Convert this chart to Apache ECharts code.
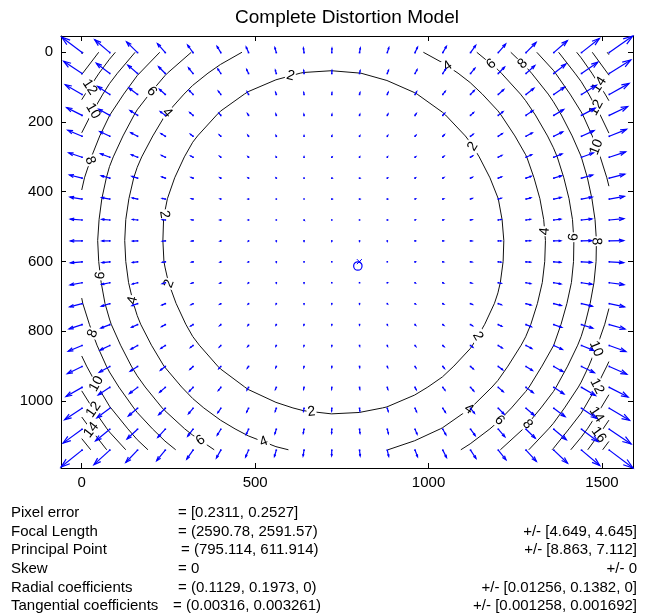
<!DOCTYPE html>
<html><head><meta charset="utf-8">
<script src="https://cdn.jsdelivr.net/npm/echarts@6/dist/echarts.min.js"></script>
<style>html,body{margin:0;padding:0;background:#fff}#chart{width:662px;height:616px}</style>
</head><body><div id="chart"></div>
<script>
// ---------- data ----------
var chartTitle = 'Complete Distortion Model';
var xTickValues = [0, 500, 1000, 1500];
var yTickValues = [0, 200, 400, 600, 800, 1000];
var gridX = [0,80,160,240,320,400,480,560,640,720,800,880,960,1040,1120,1200,1280,1360,1440,1520];
var gridY = [0,60,120,180,240,300,360,420,480,540,600,660,720,780,840,900,960,1020,1080,1140];
// displacement (pixels) at each grid point, one row per gridY value
var dispX = [
[-12.9,-9.6,-7.0,-5.0,-3.5,-2.4,-1.5,-0.9,-0.4,0.1,0.5,1.0,1.6,2.3,3.3,4.7,6.4,8.6,11.4,14.9],
[-11.7,-8.6,-6.2,-4.3,-2.9,-1.9,-1.2,-0.6,-0.2,0.1,0.4,0.8,1.3,1.9,2.8,4.0,5.6,7.7,10.4,13.7],
[-10.7,-7.7,-5.5,-3.7,-2.5,-1.6,-0.9,-0.5,-0.2,0.1,0.3,0.6,1.0,1.6,2.4,3.5,5.0,6.9,9.5,12.6],
[-9.8,-7.0,-4.8,-3.2,-2.1,-1.2,-0.7,-0.3,-0.1,0.1,0.2,0.5,0.8,1.3,2.0,3.0,4.4,6.3,8.7,11.7],
[-9.1,-6.4,-4.3,-2.8,-1.7,-1.0,-0.5,-0.2,0.0,0.1,0.2,0.3,0.6,1.0,1.7,2.6,4.0,5.7,8.0,11.0],
[-8.5,-5.9,-3.9,-2.5,-1.5,-0.8,-0.4,-0.1,0.0,0.1,0.1,0.2,0.5,0.8,1.4,2.3,3.6,5.3,7.5,10.4],
[-8.0,-5.5,-3.6,-2.2,-1.3,-0.6,-0.3,-0.1,0.0,0.1,0.1,0.2,0.3,0.7,1.2,2.1,3.3,4.9,7.1,9.9],
[-7.7,-5.2,-3.4,-2.0,-1.1,-0.5,-0.2,0.0,0.0,0.1,0.1,0.1,0.3,0.6,1.1,1.9,3.1,4.7,6.8,9.6],
[-7.5,-5.1,-3.2,-1.9,-1.0,-0.5,-0.1,0.0,0.1,0.0,0.0,0.1,0.2,0.5,1.0,1.8,2.9,4.5,6.6,9.3],
[-7.4,-5.0,-3.2,-1.9,-1.0,-0.5,-0.1,0.0,0.0,0.0,0.0,0.0,0.2,0.5,1.0,1.8,2.9,4.5,6.5,9.2],
[-7.4,-5.0,-3.2,-1.9,-1.0,-0.5,-0.2,0.0,0.0,0.0,0.0,0.0,0.2,0.5,1.0,1.8,2.9,4.5,6.6,9.2],
[-7.6,-5.2,-3.3,-2.0,-1.1,-0.6,-0.2,0.0,0.0,0.0,0.0,0.1,0.2,0.5,1.0,1.9,3.0,4.6,6.7,9.4],
[-7.9,-5.4,-3.5,-2.2,-1.3,-0.7,-0.3,-0.1,0.0,0.0,0.0,0.1,0.3,0.6,1.2,2.0,3.2,4.8,6.9,9.7],
[-8.3,-5.7,-3.8,-2.4,-1.5,-0.8,-0.4,-0.2,-0.1,0.0,0.0,0.1,0.4,0.7,1.3,2.2,3.4,5.1,7.2,10.0],
[-8.8,-6.2,-4.2,-2.8,-1.7,-1.0,-0.6,-0.3,-0.1,0.0,0.1,0.2,0.5,0.9,1.5,2.5,3.7,5.5,7.7,10.6],
[-9.4,-6.7,-4.7,-3.1,-2.0,-1.3,-0.8,-0.4,-0.2,0.0,0.1,0.3,0.6,1.1,1.8,2.8,4.1,5.9,8.2,11.2],
[-10.2,-7.4,-5.2,-3.6,-2.4,-1.6,-1.0,-0.6,-0.3,-0.1,0.2,0.4,0.8,1.4,2.1,3.2,4.6,6.5,8.9,12.0],
[-11.1,-8.2,-5.9,-4.2,-2.9,-1.9,-1.2,-0.7,-0.4,-0.1,0.2,0.6,1.0,1.7,2.5,3.7,5.2,7.2,9.7,12.9],
[-12.1,-9.1,-6.7,-4.8,-3.4,-2.3,-1.5,-0.9,-0.5,-0.1,0.3,0.7,1.3,2.0,3.0,4.2,5.9,8.0,10.6,13.9],
[-13.4,-10.1,-7.5,-5.5,-4.0,-2.8,-1.9,-1.2,-0.6,-0.1,0.4,0.9,1.6,2.4,3.5,4.9,6.6,8.8,11.6,15.1]
];
var dispY = [
[-9.7,-8.1,-6.8,-5.7,-4.8,-4.0,-3.5,-3.1,-2.9,-2.8,-2.9,-3.1,-3.4,-3.9,-4.6,-5.4,-6.4,-7.5,-8.9,-10.5],
[-7.8,-6.5,-5.3,-4.3,-3.6,-2.9,-2.5,-2.1,-2.0,-1.9,-1.9,-2.1,-2.4,-2.9,-3.4,-4.1,-5.0,-6.0,-7.2,-8.6],
[-6.2,-5.1,-4.1,-3.3,-2.6,-2.1,-1.7,-1.4,-1.2,-1.2,-1.2,-1.4,-1.7,-2.0,-2.5,-3.1,-3.9,-4.7,-5.8,-7.0],
[-4.9,-3.9,-3.1,-2.4,-1.8,-1.4,-1.1,-0.9,-0.7,-0.7,-0.7,-0.9,-1.1,-1.4,-1.8,-2.3,-3.0,-3.7,-4.6,-5.6],
[-3.8,-3.0,-2.3,-1.7,-1.3,-0.9,-0.7,-0.5,-0.4,-0.4,-0.4,-0.5,-0.7,-1.0,-1.3,-1.7,-2.2,-2.8,-3.6,-4.4],
[-2.8,-2.2,-1.6,-1.2,-0.8,-0.6,-0.4,-0.2,-0.2,-0.1,-0.2,-0.3,-0.4,-0.6,-0.9,-1.2,-1.6,-2.1,-2.7,-3.4],
[-2.0,-1.5,-1.1,-0.8,-0.5,-0.3,-0.2,-0.1,0.0,0.0,0.0,-0.1,-0.2,-0.4,-0.6,-0.8,-1.2,-1.5,-2.0,-2.5],
[-1.2,-0.9,-0.7,-0.4,-0.3,-0.1,0.0,0.0,0.0,0.0,0.0,0.0,-0.1,-0.2,-0.4,-0.5,-0.8,-1.0,-1.3,-1.7],
[-0.6,-0.4,-0.3,-0.2,-0.1,0.0,0.0,0.0,0.1,0.0,0.0,0.0,-0.1,-0.1,-0.2,-0.3,-0.4,-0.5,-0.7,-0.9],
[0.0,0.0,0.1,0.1,0.1,0.1,0.1,0.1,0.1,0.1,0.1,0.1,0.0,0.0,0.0,0.0,-0.1,-0.1,-0.2,-0.2],
[0.6,0.5,0.4,0.3,0.2,0.2,0.1,0.1,0.0,0.0,0.0,0.0,0.0,0.1,0.1,0.2,0.2,0.3,0.4,0.5],
[1.3,1.0,0.8,0.6,0.4,0.3,0.2,0.1,0.1,0.0,0.0,0.0,0.1,0.2,0.3,0.4,0.6,0.7,1.0,1.2],
[2.0,1.6,1.2,0.9,0.6,0.4,0.3,0.2,0.1,0.1,0.1,0.1,0.2,0.3,0.5,0.7,0.9,1.2,1.6,2.0],
[2.7,2.2,1.7,1.3,0.9,0.7,0.5,0.3,0.2,0.2,0.2,0.2,0.4,0.5,0.8,1.0,1.4,1.8,2.3,2.8],
[3.6,2.9,2.3,1.8,1.3,1.0,0.7,0.5,0.4,0.4,0.4,0.5,0.6,0.8,1.1,1.5,1.9,2.5,3.1,3.8],
[4.6,3.7,3.0,2.4,1.9,1.4,1.1,0.9,0.8,0.7,0.7,0.8,1.0,1.3,1.6,2.1,2.6,3.3,4.0,4.9],
[5.8,4.8,3.9,3.1,2.5,2.0,1.7,1.4,1.2,1.2,1.2,1.3,1.5,1.8,2.3,2.8,3.4,4.2,5.1,6.1],
[7.2,6.0,4.9,4.1,3.4,2.8,2.4,2.0,1.9,1.8,1.8,2.0,2.2,2.6,3.1,3.7,4.4,5.3,6.4,7.6],
[8.8,7.4,6.2,5.2,4.4,3.8,3.3,2.9,2.7,2.6,2.6,2.8,3.1,3.5,4.1,4.8,5.7,6.7,7.9,9.3],
[10.7,9.2,7.8,6.7,5.7,5.0,4.4,4.0,3.7,3.6,3.7,3.9,4.2,4.7,5.3,6.1,7.1,8.3,9.7,11.3]
];
// contour lines of the displacement magnitude (pixels): [x, y] vertices
var contour2 = [
[[640,58],[630,60],[560,79],[480,113],[469,120],[400,169],[389,180],[334,240],[320,258],[296,300],[268,360],[247,420],[240,455],[236,480],[234,540],[237,600],[240,616],[250,660],[272,720],[300,780],[320,815],[339,840],[392,900],[400,908],[470,960],[480,967],[560,1004],[609,1020],[640,1028],[720,1037],[800,1033],[867,1020],[880,1017],[960,983],[998,960],[1040,931],[1073,900],[1120,850],[1127,840],[1162,780],[1190,720],[1200,690],[1207,660],[1215,600],[1217,540],[1212,480],[1201,420],[1200,418],[1177,360],[1146,300],[1120,258],[1106,240],[1049,180],[1040,172],[967,120],[960,116],[880,81],[805,60],[800,59],[720,53],[640,58]]
];
var contour4 = [
[[462,0],[400,35],[364,60],[320,95],[295,120],[241,180],[240,182],[205,240],[173,300],[160,330],[150,360],[136,420],[127,480],[124,540],[127,600],[135,660],[149,720],[160,755],[170,780],[201,840],[237,900],[240,905],[288,960],[320,993],[352,1020],[400,1055],[442,1080],[480,1100],[560,1131],[596,1140]],
[[985,0],[1040,30],[1085,60],[1120,87],[1155,120],[1200,168],[1209,180],[1249,240],[1280,294],[1283,300],[1304,360],[1321,420],[1332,480],[1337,540],[1335,600],[1328,660],[1314,720],[1295,780],[1280,816],[1267,840],[1229,900],[1200,941],[1183,960],[1122,1020],[1120,1021],[1040,1077],[1034,1080],[960,1114],[883,1140]]
];
var contour6 = [
[[316,0],[247,60],[240,67],[195,120],[160,165],[151,180],[119,240],[91,300],[80,328],[71,360],[58,420],[50,480],[46,540],[49,600],[56,660],[67,720],[80,765],[85,780],[112,840],[143,900],[160,928],[183,960],[232,1020],[240,1028],[297,1080],[320,1098],[382,1140]],
[[1139,0],[1200,50],[1210,60],[1265,120],[1280,139],[1308,180],[1343,240],[1360,274],[1371,300],[1390,360],[1405,420],[1415,480],[1419,540],[1418,600],[1412,660],[1399,720],[1382,780],[1361,840],[1360,841],[1327,900],[1290,960],[1280,973],[1239,1020],[1200,1060],[1177,1080],[1120,1123],[1093,1140]]
];
var contour8 = [
[[225,0],[160,67],[121,120],[81,180],[80,181],[52,240],[28,300],[8,360],[0,395]],
[[1237,0],[1280,41],[1297,60],[1345,120],[1360,142],[1383,180],[1414,240],[1440,299],[1441,300],[1458,360],[1471,420],[1480,480],[1484,540],[1483,600],[1477,660],[1466,720],[1451,780],[1440,815],[1430,840],[1401,900],[1368,960],[1360,973],[1324,1020],[1280,1073],[1273,1080],[1207,1140]],
[[0,705],[3,720],[22,780],[44,840],[71,900],[80,917],[107,960],[150,1020],[160,1033],[204,1080],[240,1115],[271,1140]]
];
var contour10 = [
[[154,0],[103,60],[80,90],[61,120],[26,180],[0,231]],
[[1312,0],[1360,52],[1366,60],[1408,120],[1440,171],[1445,180],[1472,240],[1495,300],[1514,360],[1520,384]],
[[1520,735],[1508,780],[1487,840],[1462,900],[1440,946],[1432,960],[1392,1020],[1360,1064],[1346,1080],[1289,1140]],
[[0,871],[14,900],[47,960],[80,1015],[84,1020],[133,1080],[160,1111],[191,1140]]
];
var contour12 = [
[[97,0],[80,20],[50,60],[10,120],[0,136]],
[[1375,0],[1422,60],[1440,84],[1462,120],[1495,180],[1520,232]],
[[1520,887],[1514,900],[1484,960],[1449,1020],[1440,1035],[1405,1080],[1360,1136],[1356,1140]],
[[0,971],[31,1020],[73,1080],[80,1089],[127,1140]]
];
var contour14 = [
[[49,0],[3,60],[0,64]],
[[1427,0],[1440,16],[1471,60],[1509,120],[1520,139]],
[[1520,982],[1497,1020],[1458,1080],[1440,1104],[1410,1140]],
[[0,1046],[25,1080],[72,1140]]
];
var contour16 = [
[[4,0],[0,5]],
[[1472,0],[1516,60],[1520,66]],
[[1520,1055],[1503,1080],[1459,1140]],
[[26,1140],[0,1108]]
];
var contour18 = [
[[1515,0],[1520,7]],
[[1520,1116],[1502,1140]]
];
var contourLevels = [2, 4, 6, 8, 10, 12, 14, 16, 18];
// contour labels: [level, x, y]
var contourLabels = [
[12,23,100],[10,28,166],[8,18,308],[6,198,109],[4,244,171],[2,604,76],[2,225,463],
[4,1055,40],[6,1180,35],[8,1271,33],[14,1497,90],[12,1478,162],[10,1497,267],[2,1127,270],
[4,1339,513],[6,1425,530],[8,1488,542],[6,61,639],[2,254,663],[4,153,710],[8,33,806],
[10,37,954],[12,47,1016],[14,28,1083],[6,340,1117],[4,523,1121],[2,662,1035],[2,1137,811],
[10,1468,844],[12,1468,949],[4,1118,1026],[6,1204,1055],[8,1281,1064],[14,1478,1035],[16,1497,1102]
];
var principalPoint = [795.114, 611.914];
var imageCenter = [799.5, 599.5];
var paramNames = ['Pixel error','Focal Length','Principal Point','Skew','Radial coefficients','Tangential coefficients'];
var paramValues = ['= [0.2311, 0.2527]','= (2590.78, 2591.57)','= (795.114, 611.914)','= 0','= (0.1129, 0.1973, 0)','= (0.00316, 0.003261)'];
var paramErrors = ['','+/- [4.649, 4.645]','+/- [8.863, 7.112]','+/- 0','+/- [0.01256, 0.1382, 0]','+/- [0.001258, 0.001692]'];

// ---------- build ----------
var FONT = "'Liberation Sans', Arial, Helvetica, sans-serif";
var contourSets = [contour2, contour4, contour6, contour8, contour10, contour12, contour14, contour16, contour18];
var ORIGIN = 1; // quiver plotted at 1-based pixel coordinates
// quiver autoscale (MATLAB style)
var maxLen = 0;
for (var j = 0; j < gridY.length; j++) for (var i = 0; i < gridX.length; i++) {
  var m = Math.sqrt(dispX[j][i]*dispX[j][i] + dispY[j][i]*dispY[j][i]); if (m > maxLen) maxLen = m;
}
var delx = (gridX[gridX.length-1]-gridX[0])/gridX.length, dely = (gridY[gridY.length-1]-gridY[0])/gridY.length;
var S = 0.9*Math.sqrt(delx*delx + dely*dely)/maxLen;
var AH = 0.33, BH = 0.33;
var arrowData = [];
var xmin = Infinity, xmax = -Infinity, ymin = Infinity, ymax = -Infinity;
function ext(x, y){ if(x<xmin)xmin=x; if(x>xmax)xmax=x; if(y<ymin)ymin=y; if(y>ymax)ymax=y; }
for (var j = 0; j < gridY.length; j++) for (var i = 0; i < gridX.length; i++) {
  var x = gridX[i]+ORIGIN, y = gridY[j]+ORIGIN, u = dispX[j][i]*S, v = dispY[j][i]*S;
  arrowData.push([x, y, dispX[j][i], dispY[j][i]]);
  ext(x, y); ext(x+u, y+v);
  ext(x+u-AH*(u+BH*v), y+v-AH*(v-BH*u)); ext(x+u-AH*(u-BH*v), y+v-AH*(v+BH*u));
}

var series = [];
contourSets.forEach(function(set){
  set.forEach(function(line){
    series.push({type:'line', data: line, showSymbol:false, symbol:'none', silent:true, animation:false, z:2,
      lineStyle:{color:'#111', width:1}, emphasis:{disabled:true}});
  });
});
// label placement: snap onto the nearest contour segment of that level
var labelData = contourLabels.map(function(L){
  var set = contourSets[contourLevels.indexOf(L[0])];
  var best = null, bd = Infinity;
  set.forEach(function(line){
    for (var k = 0; k < line.length-1; k++) {
      var a = line[k], b = line[k+1], dx = b[0]-a[0], dy = b[1]-a[1];
      var t = ((L[1]-a[0])*dx + (L[2]-a[1])*dy)/(dx*dx+dy*dy || 1); t = Math.max(0, Math.min(1, t));
      var px = a[0]+t*dx, py = a[1]+t*dy, d = (px-L[1])*(px-L[1])+(py-L[2])*(py-L[2]);
      if (d < bd) { bd = d; best = [px, py, dx, dy]; }
    }
  });
  var ang = Math.atan2(best[3], best[2])*180/Math.PI;
  if (ang > 90) ang -= 180; if (ang <= -90) ang += 180;
  return [best[0], best[1], L[0], ang];
});
series.push({type:'custom', data: labelData, silent:true, animation:false, z:3, clip:true,
  renderItem: function(params, api){
    var p = api.coord([api.value(0), api.value(1)]);
    return {type:'text', x:p[0], y:p[1], rotation: api.value(3)*Math.PI/180,
      style:{text:String(api.value(2)), font:'14px '+FONT, fill:'#000', align:'center', verticalAlign:'middle',
        textAlign:'center', textVerticalAlign:'middle', backgroundColor:'#fff', padding:[0,1]}};
  }});
series.push({type:'custom', data: arrowData, silent:true, animation:false, z:4, clip:false,
  renderItem: function(params, api){
    var x = api.value(0), y = api.value(1), u = api.value(2)*S, v = api.value(3)*S;
    var p0 = api.coord([x, y]), p1 = api.coord([x+u, y+v]);
    var h1 = api.coord([x+u-AH*(u+BH*v), y+v-AH*(v-BH*u)]);
    var h2 = api.coord([x+u-AH*(u-BH*v), y+v-AH*(v+BH*u)]);
    var st = {stroke:'#0000ff', lineWidth:1.2, fill:null};
    return {type:'group', children:[
      {type:'rect', shape:{x:p0[0]-0.8, y:p0[1]-0.8, width:1.6, height:1.6}, style:{fill:'#0000ff'}},
      {type:'polyline', shape:{points:[p0, p1]}, style:st},
      {type:'polyline', shape:{points:[h1, p1, h2]}, style:st}
    ]};
  }});
series.push({type:'custom', data:[[principalPoint[0]+ORIGIN, principalPoint[1]+ORIGIN, 0],[imageCenter[0]+ORIGIN, imageCenter[1]+ORIGIN, 1]],
  silent:true, animation:false, z:5,
  renderItem: function(params, api){
    var p = api.coord([api.value(0), api.value(1)]);
    if (api.value(2) === 0) return {type:'circle', shape:{cx:p[0], cy:p[1], r:4.2}, style:{stroke:'#0000ff', lineWidth:1.2, fill:null}};
    return {type:'group', children:[
      {type:'line', shape:{x1:p[0]-2.5, y1:p[1]-2.5, x2:p[0]+2.5, y2:p[1]+2.5}, style:{stroke:'#0000ff', lineWidth:1}},
      {type:'line', shape:{x1:p[0]-2.5, y1:p[1]+2.5, x2:p[0]+2.5, y2:p[1]-2.5}, style:{stroke:'#0000ff', lineWidth:1}}
    ]};
  }});

var axisCommon = {type:'value', splitLine:{show:false}, axisLine:{show:true, onZero:false, lineStyle:{color:'#000', width:1}},
  axisTick:{show:true, inside:true, length:5, lineStyle:{color:'#000'}}};
function mkAxis(extra){ var o = JSON.parse(JSON.stringify(axisCommon)); for (var k in extra) { if (typeof extra[k]==='object' && o[k]) { for (var q in extra[k]) o[k][q]=extra[k][q]; } else o[k]=extra[k]; } return o; }
function plainNum(v){ return String(Math.round(v)); }
var option = {
  animation:false,
  grid:{left:61, top:36, right:29, bottom:148, containLabel:false},
  xAxis:[
    mkAxis({position:'bottom', min:xmin, max:xmax, axisTick:{customValues:xTickValues},
      axisLabel:{show:true, customValues:xTickValues, formatter:plainNum, margin:7, color:'#000', fontFamily:FONT, fontSize:15}}),
    mkAxis({position:'top', min:xmin, max:xmax, axisTick:{customValues:xTickValues}, axisLabel:{show:false}})
  ],
  yAxis:[
    mkAxis({position:'left', inverse:true, min:ymin, max:ymax, axisTick:{customValues:yTickValues},
      axisLabel:{show:true, customValues:yTickValues, formatter:plainNum, margin:8, color:'#000', fontFamily:FONT, fontSize:15}}),
    mkAxis({position:'right', inverse:true, min:ymin, max:ymax, axisTick:{customValues:yTickValues}, axisLabel:{show:false}})
  ],
  series: series,
  graphic: []
};
option.graphic.push({type:'text', x:347, y:18, silent:true,
  style:{text:chartTitle, font:'19px '+FONT, fill:'#000', align:'center', verticalAlign:'middle', textAlign:'center', textVerticalAlign:'middle'}});
var valueX = [178, 178, 181, 178, 178, 173];
for (var r = 0; r < paramNames.length; r++) {
  var yy = 513 + r*18.6;
  option.graphic.push({type:'text', x:11, y:yy, silent:true, style:{text:paramNames[r], font:'15px '+FONT, fill:'#000', align:'left', verticalAlign:'middle', textVerticalAlign:'middle'}});
  option.graphic.push({type:'text', x:valueX[r], y:yy, silent:true, style:{text:paramValues[r], font:'15px '+FONT, fill:'#000', align:'left', verticalAlign:'middle', textVerticalAlign:'middle'}});
  if (paramErrors[r]) option.graphic.push({type:'text', x:637, y:yy, silent:true, style:{text:paramErrors[r], font:'15px '+FONT, fill:'#000', align:'right', verticalAlign:'middle', textAlign:'right', textVerticalAlign:'middle'}});
}
var chart = echarts.init(document.getElementById('chart'), null, {renderer:'canvas'});
chart.setOption(option);
</script></body></html>
